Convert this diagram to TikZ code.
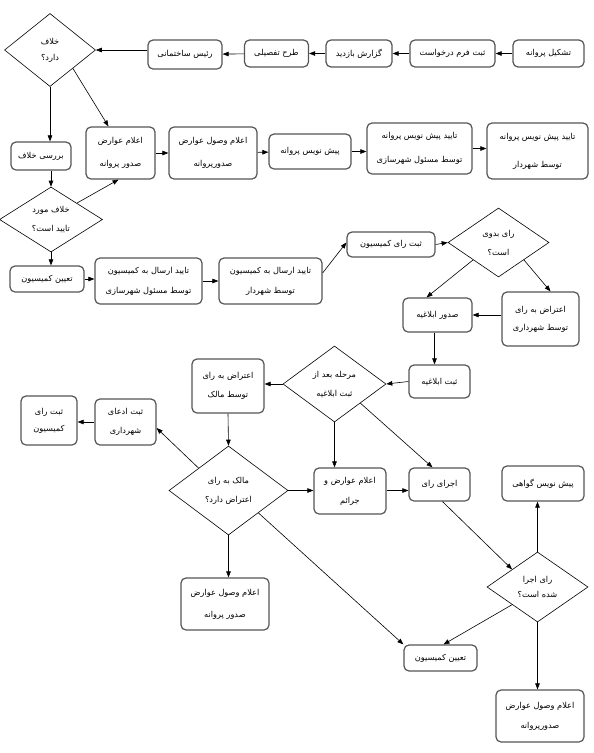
\documentclass[tikz,border=0pt]{standalone}
\usepackage{fontspec}
\usetikzlibrary{arrows.meta,shapes.geometric,calc}
\newfontfamily\arfont[Script=Arabic]{DejaVu Sans}
\TeXXeTstate=1
\newcommand\R[1]{\beginR#1\endR}
\definecolor{boxc}{HTML}{555555}
\begin{document}
\begin{tikzpicture}[x=1pt,y=-1pt,
  box/.style={draw=boxc, line width=1.2pt, rounded corners=5pt, align=center, inner sep=0pt, font=\arfont\fontsize{8.2}{20}\selectfont},
  dia/.style={draw=black, line width=0.6pt, shape=diamond, align=center, inner sep=0pt, font=\arfont\fontsize{8.2}{19}\selectfont},
  arr/.style={-{Triangle[length=6pt,width=4.5pt]}, line width=0.6pt}]
\useasboundingbox (0,0) rectangle (594,753);
% top row
\node[box, minimum width=71, minimum height=27] (tashkil) at (548.5,53.5) {\R{تشکیل پروانه}};
\node[box, minimum width=85, minimum height=27] (sabtform) at (452.5,53.5) {\R{ثبت فرم درخواست}};
\node[box, minimum width=66, minimum height=27] (gozaresh) at (359,53.5) {\R{گزارش بازدید}};
\node[box, minimum width=64, minimum height=27] (tarh) at (276.5,53.5) {\R{طرح تفصیلی}};
\node[box, minimum width=74, minimum height=29] (rais) at (185,54.5) {\R{رئیس ساختمانی}};
\node[dia, minimum width=91, minimum height=73] (d1) at (50,50) {\R{خلاف}\\[-3pt]\R{دارد؟}};
% row 2
\node[box, minimum width=60, minimum height=28] (barresi) at (41,156) {\R{بررسی خلاف}};
\node[dia, minimum width=103, minimum height=65] (d2) at (51,219.5) {\R{خلاف مورد}\\\R{تایید است؟}};
\node[box, minimum width=69, minimum height=52] (elam1) at (120.5,153) {\R{اعلام عوارض}\\[3pt]\R{صدور پروانه}};
\node[box, minimum width=88, minimum height=52] (vosul1) at (213,153) {\R{اعلام وصول عوارض}\\[3pt]\R{صدورپروانه}};
\node[box, minimum width=82, minimum height=35] (pishnevis) at (310,151.5) {\R{پیش نویس پروانه}};
\node[box, minimum width=105, minimum height=51] (taeed1) at (419.5,148.5) {\R{تایید پیش نویس پروانه}\\[4pt]\R{توسط مسئول شهرسازی}};
\node[box, minimum width=101, minimum height=56] (taeed2) at (537.5,151) {\R{تایید پیش نویس پروانه}\\[8pt]\R{توسط شهردار}};
% row 3
\node[box, minimum width=74, minimum height=26] (tayin1) at (47,279) {\R{تعیین کمیسیون}};
\node[box, minimum width=107, minimum height=46] (ersal1) at (148.5,281) {\R{تایید ارسال به کمیسیون}\\\R{توسط مسئول شهرسازی}};
\node[box, minimum width=103, minimum height=46] (ersal2) at (270.5,281) {\R{تایید ارسال به کمیسیون}\\\R{توسط شهردار}};
\node[box, minimum width=88, minimum height=25] (sabtray) at (391,244.5) {\R{ثبت رای کمیسیون}};
\node[dia, minimum width=101, minimum height=69] (d3) at (498.5,242.5) {\R{رای بدوی}\\\R{است؟}};
\node[box, minimum width=69, minimum height=34] (sodur) at (437.5,315) {\R{صدور ابلاغیه}};
\node[box, minimum width=77, minimum height=54] (eteraz1) at (540.5,319) {\R{اعتراض به رای}\\[-2pt]\R{توسط شهرداری}};
\node[box, minimum width=61, minimum height=33] (sabtebl) at (439.5,381.5) {\R{ثبت ابلاغیه}};
% row 4
\node[dia, minimum width=103, minimum height=76] (d4) at (334.5,384) {\R{مرحله بعد از}\\\R{ثبت ابلاغیه}};
\node[box, minimum width=72, minimum height=54] (eteraz2) at (228,386) {\R{اعتراض به رای}\\[-1pt]\R{توسط مالک}};
\node[box, minimum width=61, minimum height=46] (edea) at (125.5,422) {\R{ثبت ادعای}\\[-1pt]\R{شهرداری}};
\node[box, minimum width=56, minimum height=49] (sabtray2) at (49,420.5) {\R{ثبت رای}\\[-3pt]\R{کمیسیون}};
\node[dia, minimum width=119, minimum height=89] (d5) at (228.5,490.5) {\R{مالک به رای}\\\R{اعتراض دارد؟}};
\node[box, minimum width=72, minimum height=46] (jaraem) at (350,491) {\R{اعلام عوارض و}\\\R{جرائم}};
\node[box, minimum width=61, minimum height=33] (ejra) at (439.5,484.5) {\R{اجرای رای}};
\node[box, minimum width=82, minimum height=35] (govahi) at (543,483.5) {\R{پیش نویس گواهی}};
% bottom
\node[dia, minimum width=101, minimum height=70] (d6) at (537.5,587) {\R{رای اجرا}\\[-4pt]\R{شده است؟}};
\node[box, minimum width=88, minimum height=52] (vosul2) at (225,604) {\R{اعلام وصول عوارض}\\[2pt]\R{صدور پروانه}};
\node[box, minimum width=73, minimum height=26] (tayin2) at (440.5,658) {\R{تعیین کمیسیون}};
\node[box, minimum width=88, minimum height=52] (vosul3) at (540,716) {\R{اعلام وصول عوارض}\\\R{صدورپروانه}};
% connectors
\draw[arr] (tashkil) -- (sabtform);
\draw[arr] (sabtform) -- (gozaresh);
\draw[arr] (gozaresh) -- (tarh);
\draw[arr] (tarh) -- (rais);
\draw[arr] (d1.east -| rais.west) -- (d1.east);
\draw[arr] (d1.south) -- (barresi.north -| d1.south);
\draw[arr] (d1.south east) -- ([xshift=-12pt]elam1.north);
\draw[arr] (barresi.south -| d2.north) -- (d2.north);
\draw[arr] (d2.north east) -- ([xshift=-2pt]elam1.south);
\draw[arr] (d2.south) -- (tayin1.north -| d2.south);
\draw[arr] (elam1) -- (vosul1);
\draw[arr] (vosul1) -- (pishnevis);
\draw[arr] (pishnevis.east) -- (pishnevis.east -| taeed1.west);
\draw[arr] (taeed1.east) -- (taeed1.east -| taeed2.west);
\draw[arr] (tayin1) -- (tayin1 -| ersal1.west);
\draw[arr] (ersal1.east) -- (ersal1.east -| ersal2.west);
\draw[arr] ([yshift=8pt]ersal2.east) -- ([yshift=2pt]sabtray.west);
\draw[arr] (sabtray.east) -- (d3.west);
\draw[arr] (d3.south west) -- ([xshift=-11pt]sodur.north);
\draw[arr] (d3.south east) -- ([xshift=10pt]eteraz1.north);
\draw[arr] (eteraz1.west |- sodur.east) -- (sodur.east);
\draw[arr] ([xshift=-3pt]sodur.south) -- ([xshift=-3pt]sodur.south |- sabtebl.north);
\draw[arr] (sabtebl.west) -- (d4.east);
\draw[arr] (d4.west) -- (d4.west -| eteraz2.east);
\draw[arr] (eteraz2.south) -- (d5.north);
\draw[arr] (edea.west) -- (edea.west -| sabtray2.east);
\draw[arr] (d5.north west) -- ([yshift=-6pt]edea.east);
\draw[arr] (d5.east) -- (d5.east -| jaraem.west);
\draw[arr] (d4.south) -- (d4.south |- jaraem.north);
\draw[arr] (d4.south east) -- ([xshift=-7pt]ejra.north);
\draw[arr] (jaraem.east |- d5.east) -- (ejra.west |- d5.east);
\draw[arr] (d6.north) -- (d6.north |- govahi.south);
\draw[arr] ([xshift=3pt]ejra.south) -- (d6.north west);
\draw[arr] (d6.south west) -- ([xshift=3pt]tayin2.north);
\draw[arr] (d5.south east) -- (tayin2.north west);
\draw[arr] (d5.south) -- (d5.south |- vosul2.north);
\draw[arr] (d6.south) -- (d6.south |- vosul3.north);
\end{tikzpicture}
\end{document}
